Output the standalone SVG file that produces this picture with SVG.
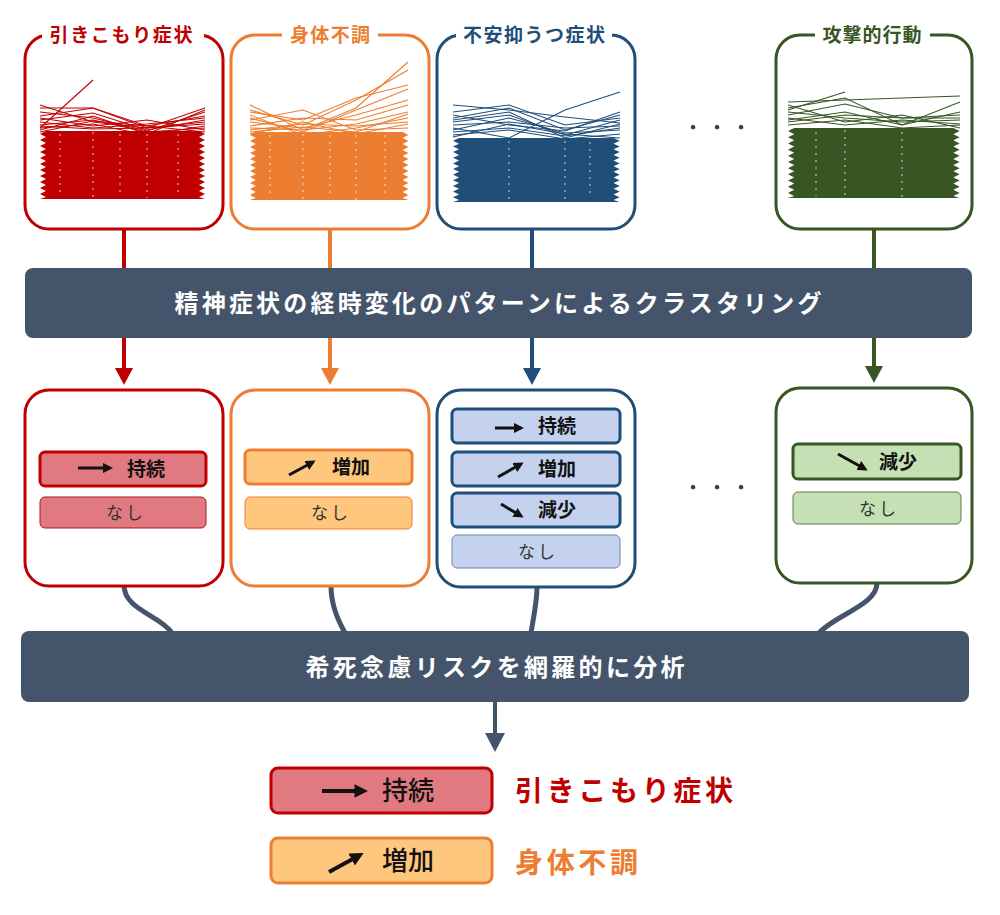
<svg xmlns="http://www.w3.org/2000/svg" xmlns:xlink="http://www.w3.org/1999/xlink" width="1000" height="915" viewBox="0 0 1000 915">
<style>
.jp{font-family:"Noto Sans CJK JP","Noto Sans",sans-serif}
.ttl{font-size:19px;font-weight:700;text-anchor:middle}
.bar{fill:#44546a}
.bartx{font-size:24px;font-weight:700;fill:#fff;text-anchor:middle}
.panel{fill:#fff;stroke-width:3}
.lab{font-size:19px;font-weight:700;fill:#111;text-anchor:middle}
.nasi{font-size:17px;fill:#333;text-anchor:middle;letter-spacing:3px}
.sp{fill:none;stroke-width:1.1}
.tex{stroke:#fff;stroke-width:1.4;stroke-dasharray:2 5;opacity:.55}
.ar{fill:none;stroke:#111;stroke-width:3;marker-end:url(#ah)}
.ar4{fill:none;stroke:#111;stroke-width:4;marker-end:url(#ah)}
.conn{stroke-width:4;fill:none}
.curve{stroke:#44546a;stroke-width:5;fill:none}
</style>
<defs>
<marker id="ah" viewBox="0 0 10 10" refX="7" refY="5" markerWidth="3.4" markerHeight="3.4" orient="auto"><path d="M0,0 L10,5 L0,10 z" fill="#111"/></marker>
<path id="body" d="M6,0 L0,3 L6,6 L0,9 L6,12 L0,15 L6,18 L0,21 L6,24 L0,27 L6,30 L0,33 L6,36 L0,39 L6,42 L0,45 L6,48 L0,51 L6,54 L0,57 L6,60 L0,63 L6,66 L0,68 L165,68 L159,66 L165,63 L159,60 L165,57 L159,54 L165,51 L159,48 L165,45 L159,42 L165,39 L159,36 L165,33 L159,30 L165,27 L159,24 L165,21 L159,18 L165,15 L159,12 L165,9 L159,6 L165,3 L159,0 Z"/>
</defs>

<!-- Top panels -->
<g id="panel-hikikomori">
<rect class="panel" x="25" y="35" width="198" height="194" rx="24" stroke="#c00000"/>
<rect x="42" y="24" width="162" height="22" fill="#fff"/>
<text class="jp ttl" x="121" y="42" fill="#c00000" textLength="143" lengthAdjust="spacing">引きこもり症状</text>
<g stroke="#c00000" class="sp">
<polyline points="40,128 93,80"/>
<polyline points="40,108 93,108 147,128 205,108"/>
<polyline points="40,112 93,118 147,131 205,112"/>
<polyline points="40,116 93,108 147,126 205,116"/>
<polyline points="40,105 93,122 147,128 205,124"/>
<polyline points="40,120 93,113 147,130 205,120"/>
<polyline points="40,125 93,120 147,132 205,128"/>
<polyline points="40,118 93,126 147,120 205,130"/>
<polyline points="40,130 93,116 147,134 205,110"/>
<polyline points="40,122 93,128 147,124 205,118"/>
<polyline points="40,128 93,124 147,135 205,126"/>
<polyline points="40,126 93,129 147,128 205,122"/>
<polyline points="40,132 93,121 147,126 205,132"/>
</g>
<use href="#body" transform="translate(40,131)" fill="#c00000"/>
<g class="tex"><line x1="60" y1="134" x2="60" y2="196"/><line x1="93" y1="132" x2="93" y2="198"/><line x1="120" y1="134" x2="120" y2="196"/><line x1="147" y1="134" x2="147" y2="198"/><line x1="178" y1="134" x2="178" y2="196"/></g>
</g>

<g id="panel-shintai">
<rect class="panel" x="231" y="35" width="198" height="194" rx="24" stroke="#ed7d31"/>
<rect x="282" y="24" width="96" height="22" fill="#fff"/>
<text class="jp ttl" x="330" y="42" fill="#ed7d31" textLength="80" lengthAdjust="spacing">身体不調</text>
<g stroke="#ed7d31" class="sp">
<polyline points="250,105 303,130 356,108 408,62"/>
<polyline points="250,110 303,125 356,100 408,70"/>
<polyline points="250,112 303,120 356,98 408,85"/>
<polyline points="250,118 303,132 356,110 408,89"/>
<polyline points="250,122 303,128 356,115 408,100"/>
<polyline points="250,126 303,118 356,120 408,105"/>
<polyline points="250,128 303,130 356,124 408,112"/>
<polyline points="250,115 303,135 356,128 408,118"/>
<polyline points="250,130 303,124 356,126 408,122"/>
<polyline points="250,120 303,110 356,130 408,128"/>
<polyline points="250,132 303,127 356,132 408,114"/>
<polyline points="250,134 303,122 356,134 408,124"/>
</g>
<use href="#body" transform="translate(250,132) scale(0.96,1)" fill="#ed7d31"/>
<g class="tex"><line x1="270" y1="135" x2="270" y2="198"/><line x1="303" y1="134" x2="303" y2="200"/><line x1="330" y1="135" x2="330" y2="198"/><line x1="356" y1="135" x2="356" y2="200"/><line x1="385" y1="135" x2="385" y2="198"/></g>
</g>

<g id="panel-fuan">
<rect class="panel" x="437" y="35" width="198" height="194" rx="24" stroke="#1f4e79"/>
<rect x="456" y="24" width="156" height="22" fill="#fff"/>
<text class="jp ttl" x="534" y="42" fill="#1f4e79" textLength="142" lengthAdjust="spacing">不安抑うつ症状</text>
<g stroke="#1f4e79" class="sp">
<polyline points="453,105 509,110 565,117 620,123"/>
<polyline points="453,128 509,138 565,110 620,92"/>
<polyline points="453,112 509,105 565,125 620,118"/>
<polyline points="453,118 509,108 565,130 620,115"/>
<polyline points="453,122 509,115 565,135 620,120"/>
<polyline points="453,125 509,122 565,128 620,126"/>
<polyline points="453,130 509,118 565,133 620,130"/>
<polyline points="453,115 509,125 565,131 620,112"/>
<polyline points="453,132 509,128 565,136 620,128"/>
<polyline points="453,120 509,112 565,138 620,124"/>
<polyline points="453,135 509,130 565,139 620,134"/>
<polyline points="453,137 509,124 565,134 620,138"/>
</g>
<use href="#body" transform="translate(453,138) scale(1.01,0.94)" fill="#1f4e79"/>
<g class="tex"><line x1="509" y1="141" x2="509" y2="200"/><line x1="565" y1="141" x2="565" y2="200"/><line x1="590" y1="142" x2="590" y2="198"/></g>
</g>

<g id="panel-kougeki">
<rect class="panel" x="776" y="35" width="196" height="194" rx="24" stroke="#375623"/>
<rect x="815" y="24" width="115" height="22" fill="#fff"/>
<text class="jp ttl" x="872" y="42" fill="#375623" textLength="99" lengthAdjust="spacing">攻撃的行動</text>
<g stroke="#375623" class="sp">
<polyline points="788,102 845,100 902,98 960,96"/>
<polyline points="788,110 845,92"/>
<polyline points="788,108 845,98 902,125 960,102"/>
<polyline points="788,115 845,104 902,118 960,115"/>
<polyline points="788,112 845,118 902,122 960,120"/>
<polyline points="788,120 845,112 902,125 960,112"/>
<polyline points="788,118 845,125 902,120 960,124"/>
<polyline points="788,125 845,120 902,128 960,125"/>
<polyline points="788,105 845,122 902,115 960,128"/>
<polyline points="788,122 845,115 902,118 960,118"/>
</g>
<use href="#body" transform="translate(788,128) scale(1.04,1.03)" fill="#375623"/>
<g class="tex"><line x1="816" y1="132" x2="816" y2="196"/><line x1="845" y1="130" x2="845" y2="198"/><line x1="902" y1="132" x2="902" y2="198"/></g>
</g>

<text class="jp" x="683" y="135" font-size="20" fill="#333" letter-spacing="4">・・・</text>

<!-- Clustering bar -->
<g id="bar-cluster">
<rect class="bar" x="25" y="268" width="947" height="70" rx="8"/>
<text class="jp bartx" x="498" y="312" textLength="647" lengthAdjust="spacing">精神症状の経時変化のパターンによるクラスタリング</text>
</g>

<!-- Connectors -->
<g id="connectors">
<line class="conn" stroke="#c00000" x1="124" y1="229" x2="124" y2="268"/>
<line class="conn" stroke="#c00000" x1="124" y1="338" x2="124" y2="370"/>
<polygon fill="#c00000" points="115,368 133,368 124,385"/>
<line class="conn" stroke="#ed7d31" x1="330" y1="229" x2="330" y2="268"/>
<line class="conn" stroke="#ed7d31" x1="330" y1="338" x2="330" y2="370"/>
<polygon fill="#ed7d31" points="321,368 339,368 330,385"/>
<line class="conn" stroke="#1f4e79" x1="532" y1="229" x2="532" y2="268"/>
<line class="conn" stroke="#1f4e79" x1="532" y1="338" x2="532" y2="370"/>
<polygon fill="#1f4e79" points="523,368 541,368 532,385"/>
<line class="conn" stroke="#375623" x1="874" y1="229" x2="874" y2="268"/>
<line class="conn" stroke="#375623" x1="874" y1="338" x2="874" y2="368"/>
<polygon fill="#375623" points="865,366 883,366 874,383"/>
<path class="curve" d="M124,585 C124,610 160,615 172,633"/>
<path class="curve" d="M331,586 C331,605 338,620 345,633"/>
<path class="curve" d="M537,587 C537,602 533,620 531,633"/>
<path class="curve" d="M877,583 C877,605 835,615 819,633"/>
<line stroke="#44546a" stroke-width="4" x1="495" y1="702" x2="495" y2="735"/>
<polygon fill="#44546a" points="485,733 505,733 495,752"/>
</g>

<!-- Middle cluster boxes -->
<g id="cluster-hikikomori">
<rect class="panel" x="25" y="390" width="198" height="196" rx="24" stroke="#c00000"/>
<rect x="40" y="452" width="166" height="34" rx="5" fill="#e07a80" stroke="#c00000" stroke-width="3"/>
<line class="ar" x1="78" y1="468" x2="110" y2="468"/>
<text class="jp lab" x="146" y="476">持続</text>
<rect x="40" y="497" width="166" height="31" rx="5" fill="#e07a80" stroke="#b01818" stroke-width="1"/>
<text class="jp nasi" x="126" y="519">なし</text>
</g>

<g id="cluster-shintai">
<rect class="panel" x="231" y="390" width="198" height="196" rx="24" stroke="#ed7d31"/>
<rect x="245" y="450" width="167" height="34" rx="5" fill="#ffc77d" stroke="#ed7d31" stroke-width="3"/>
<line class="ar" x1="289" y1="475" x2="313" y2="462"/>
<text class="jp lab" x="351" y="474">増加</text>
<rect x="245" y="497" width="167" height="32" rx="5" fill="#ffc77d" stroke="#ed7d31" stroke-width="1"/>
<text class="jp nasi" x="331" y="519">なし</text>
</g>

<g id="cluster-fuan">
<rect class="panel" x="437" y="390" width="198" height="197" rx="24" stroke="#1f4e79"/>
<rect x="452" y="409" width="168" height="34" rx="5" fill="#c5d2ef" stroke="#1f4e79" stroke-width="3"/>
<line class="ar" x1="495" y1="428" x2="521" y2="428"/>
<text class="jp lab" x="557" y="433">持続</text>
<rect x="452" y="452" width="168" height="34" rx="5" fill="#c5d2ef" stroke="#1f4e79" stroke-width="3"/>
<line class="ar" x1="498" y1="477" x2="521" y2="464"/>
<text class="jp lab" x="557" y="476">増加</text>
<rect x="452" y="493" width="168" height="34" rx="5" fill="#c5d2ef" stroke="#1f4e79" stroke-width="3"/>
<line class="ar" x1="501" y1="504" x2="521" y2="516"/>
<text class="jp lab" x="557" y="517">減少</text>
<rect x="452" y="535" width="168" height="33" rx="5" fill="#c5d2ef" stroke="#6f86a8" stroke-width="1"/>
<text class="jp nasi" x="538" y="558">なし</text>
</g>

<g id="cluster-kougeki">
<rect class="panel" x="776" y="388" width="196" height="195" rx="24" stroke="#375623"/>
<rect x="793" y="444" width="168" height="35" rx="5" fill="#c5e0b4" stroke="#375623" stroke-width="3"/>
<line class="ar" x1="838" y1="454" x2="865" y2="469"/>
<text class="jp lab" x="898" y="469">減少</text>
<rect x="793" y="492" width="168" height="32" rx="5" fill="#c5e0b4" stroke="#5d7a48" stroke-width="1"/>
<text class="jp nasi" x="879" y="515">なし</text>
</g>

<text class="jp" x="683" y="495" font-size="20" fill="#333" letter-spacing="4">・・・</text>

<!-- Analysis bar -->
<g id="bar-analysis">
<rect class="bar" x="21" y="631" width="948" height="71" rx="8"/>
<text class="jp bartx" x="495" y="676" textLength="379" lengthAdjust="spacing">希死念慮リスクを網羅的に分析</text>
</g>

<!-- Results legend -->
<g id="result-hikikomori">
<rect x="271" y="768" width="221" height="45" rx="7" fill="#e07a80" stroke="#c00000" stroke-width="3"/>
<line class="ar4" x1="322" y1="791" x2="364" y2="791"/>
<text class="jp" x="408" y="800" font-size="26" font-weight="500" fill="#111" text-anchor="middle">持続</text>
<text class="jp" x="515" y="801" font-size="28" font-weight="700" fill="#c00000" textLength="218" lengthAdjust="spacing">引きこもり症状</text>
</g>
<g id="result-shintai">
<rect x="271" y="838" width="221" height="45" rx="7" fill="#ffc77d" stroke="#ed7d31" stroke-width="3"/>
<line class="ar4" x1="329" y1="872" x2="360" y2="855"/>
<text class="jp" x="408" y="870" font-size="26" font-weight="500" fill="#111" text-anchor="middle">増加</text>
<text class="jp" x="515" y="873" font-size="28" font-weight="700" fill="#ed7d31" textLength="123" lengthAdjust="spacing">身体不調</text>
</g>
</svg>
